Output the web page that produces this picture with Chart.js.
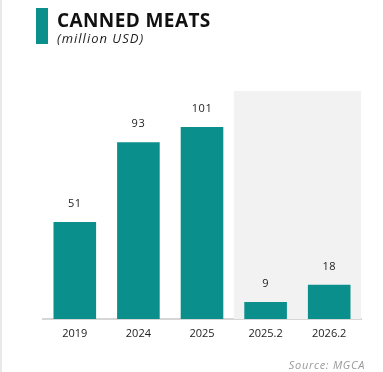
<!DOCTYPE html>
<html>
<head>
<meta charset="utf-8">
<script src="https://cdn.jsdelivr.net/npm/chart.js@4"></script>
<style>
  html, body { margin: 0; padding: 0; background: #fff; }
  #wrap { position: relative; width: 383px; height: 372px; overflow: hidden; }
  #edge { position: absolute; left: 0; top: 0; width: 2px; height: 372px; background: #e9e9e9; }
  #accent { position: absolute; left: 36px; top: 8px; width: 12px; height: 36px; background: #0a8f8c; }
  #title { position: absolute; left: 57px; top: 7px; font: 700 19px "Open Sans", sans-serif; color: #111; letter-spacing: 0.4px; white-space: nowrap; }
  #subtitle { position: absolute; left: 57px; top: 29px; font: italic 13px "Open Sans", sans-serif; color: #222; letter-spacing: 1px; white-space: nowrap; }
  #source { position: absolute; right: 18px; top: 357px; font: italic 11px "Open Sans", sans-serif; color: #9a9a9a; letter-spacing: 0.7px; white-space: nowrap; }
  canvas { position: absolute; left: 0; top: 0; }
</style>
</head>
<body>
<div id="wrap">
  <canvas id="chart" width="383" height="372"></canvas>
  <div id="edge"></div>
  <div id="accent"></div>
  <div id="title">CANNED MEATS</div>
  <div id="subtitle">(million USD)</div>
  <div id="source">Source: MGCA</div>
</div>
<script>
// Canned meat sales, million USD
const categories = ['2019', '2024', '2025', '2025.2', '2026.2'];
const values = [51, 93, 101, 9, 18];
// Index of the first category in the shaded (partial-year) block
const shadedFrom = 3;

const teal = '#0a8f8c';

// Light grey panel behind the partial-year bars
const shadePanel = {
  id: 'shadePanel',
  beforeDatasetsDraw(chart) {
    const { ctx, chartArea, scales } = chart;
    const x = scales.x;
    const left = (x.getPixelForTick(shadedFrom - 1) + x.getPixelForTick(shadedFrom)) / 2;
    ctx.save();
    ctx.fillStyle = '#f2f2f2';
    ctx.fillRect(left, chartArea.top, chartArea.right - left, chartArea.bottom - chartArea.top);
    ctx.restore();
  }
};

// Value labels above each bar
const valueLabels = {
  id: 'valueLabels',
  afterDatasetsDraw(chart) {
    const { ctx } = chart;
    const meta = chart.getDatasetMeta(0);
    ctx.save();
    ctx.font = '11px "Open Sans", sans-serif';
    ctx.letterSpacing = '0.5px';
    ctx.fillStyle = '#222';
    ctx.textAlign = 'center';
    ctx.textBaseline = 'middle';
    meta.data.forEach((bar, i) => {
      ctx.fillText(String(values[i]), bar.x, bar.y - 18);
    });
    ctx.restore();
  }
};

new Chart(document.getElementById('chart'), {
  type: 'bar',
  data: {
    labels: categories,
    datasets: [{
      data: values,
      backgroundColor: teal,
      borderWidth: 0,
      barPercentage: 0.67,
      categoryPercentage: 1.0
    }]
  },
  options: {
    responsive: false,
    animation: false,
    devicePixelRatio: 1,
    layout: { padding: { left: 43, right: 22, top: 91, bottom: 23 } },
    plugins: { legend: { display: false }, tooltip: { enabled: false } },
    scales: {
      x: {
        grid: { display: false, drawTicks: false },
        border: { display: true, color: '#d6d6d6', width: 2 },
        ticks: { color: '#222', font: { size: 11, family: '"Open Sans", sans-serif' }, padding: 8 },
        afterFit(scale) { scale.height = 30; }
      },
      y: {
        display: false,
        min: 0,
        max: 120
      }
    }
  },
  plugins: [shadePanel, valueLabels]
});
</script>
</body>
</html>
